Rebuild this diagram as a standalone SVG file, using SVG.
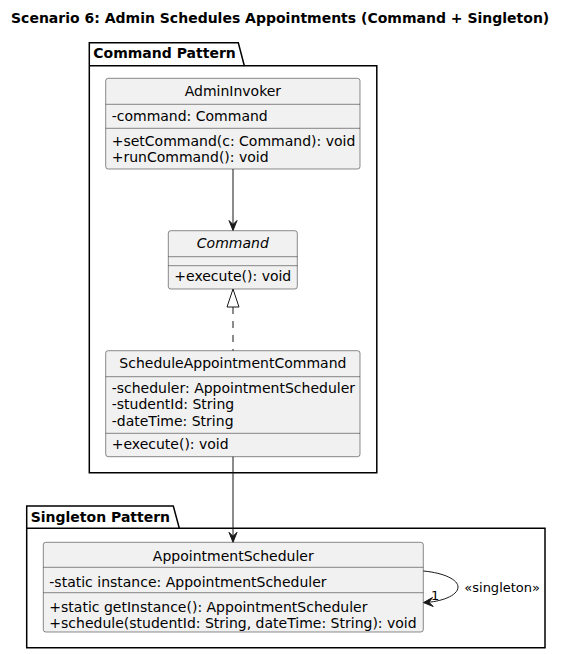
<svg xmlns="http://www.w3.org/2000/svg" width="565" height="654" viewBox="0 0 565 654">
<style>
text{font-family:"DejaVu Sans","Liberation Sans",sans-serif;font-size:14px;fill:#000}
.title{font-weight:bold}
.lbl{font-size:13px}
.pkg{fill:none;stroke:#000;stroke-width:1.5}
.cls{fill:#F1F1F1;stroke:#181818;stroke-width:0.5}
.sep{stroke:#181818;stroke-width:0.5}
.edge{fill:none;stroke:#181818;stroke-width:1}
.head{fill:#181818;stroke:#181818;stroke-width:1}
</style>
<rect width="565" height="654" fill="#fff"/>
<text class="title" x="11" y="22.7">Scenario 6: Admin Schedules Appointments (Command + Singleton)</text>

<g id="pkg-command">
<path class="pkg" d="M89.3,65.7 L89.3,42.7 L238.3,42.7 L244.3,65.7 L376.8,65.7 L376.8,472.7 L89.3,472.7 Z"/>
<line class="pkg" x1="89.3" y1="65.7" x2="244.3" y2="65.7"/>
<text class="title" x="93.3" y="58.3">Command Pattern</text>
</g>

<g id="pkg-singleton">
<path class="pkg" d="M26.7,528.3 L26.7,506 L173.3,506 L179.3,528.3 L545,528.3 L545,647.7 L26.7,647.7 Z"/>
<line class="pkg" x1="26.7" y1="528.3" x2="179.3" y2="528.3"/>
<text class="title" x="30.7" y="521.5">Singleton Pattern</text>
</g>

<g id="AdminInvoker">
<rect class="cls" x="105.7" y="78.3" width="254.3" height="90.7" rx="2.5"/>
<line class="sep" x1="105.7" y1="104.3" x2="360" y2="104.3"/>
<line class="sep" x1="105.7" y1="128.3" x2="360" y2="128.3"/>
<text x="232.9" y="96" text-anchor="middle">AdminInvoker</text>
<text x="111.7" y="121">-command: Command</text>
<text x="111.7" y="146">+setCommand(c: Command): void</text>
<text x="111.7" y="161.5">+runCommand(): void</text>
</g>

<g id="Command">
<rect class="cls" x="168.3" y="230.7" width="129" height="58.3" rx="2.5"/>
<line class="sep" x1="168.3" y1="256.7" x2="297.3" y2="256.7"/>
<line class="sep" x1="168.3" y1="265.7" x2="297.3" y2="265.7"/>
<text x="232.8" y="248" text-anchor="middle" font-style="italic">Command</text>
<text x="174.3" y="281">+execute(): void</text>
</g>

<g id="ScheduleAppointmentCommand">
<rect class="cls" x="105.7" y="350.7" width="254.3" height="106" rx="2.5"/>
<line class="sep" x1="105.7" y1="376.7" x2="360" y2="376.7"/>
<line class="sep" x1="105.7" y1="433.3" x2="360" y2="433.3"/>
<text x="232.9" y="368" text-anchor="middle">ScheduleAppointmentCommand</text>
<text x="111.7" y="393">-scheduler: AppointmentScheduler</text>
<text x="111.7" y="409.3">-studentId: String</text>
<text x="111.7" y="425.6">-dateTime: String</text>
<text x="111.7" y="449">+execute(): void</text>
</g>

<g id="AppointmentScheduler">
<rect class="cls" x="43.3" y="542.3" width="380" height="89.7" rx="2.5"/>
<line class="sep" x1="43.3" y1="567.3" x2="423.3" y2="567.3"/>
<line class="sep" x1="43.3" y1="592.7" x2="423.3" y2="592.7"/>
<text x="233.3" y="561" text-anchor="middle">AppointmentScheduler</text>
<text x="49.3" y="586.5">-static instance: AppointmentScheduler</text>
<text x="49.3" y="611.5">+static getInstance(): AppointmentScheduler</text>
<text x="49.3" y="627.8">+schedule(studentId: String, dateTime: String): void</text>
</g>

<g id="connectors">
<line class="edge" x1="233" y1="169" x2="233" y2="229"/>
<polygon class="head" points="233,230.5 229,220.5 233,224.5 237,220.5"/>
<line class="edge" x1="233" y1="307" x2="233" y2="350.7" stroke-dasharray="7,7"/>
<polygon points="233,289 227,307 239,307" fill="#fff" stroke="#181818" stroke-width="1"/>
<line class="edge" x1="233" y1="456.7" x2="233" y2="541"/>
<polygon class="head" points="233,542.3 229,532.3 233,536.3 237,532.3"/>
<path class="edge" d="M423.3,571 C445,573 458,580 458,587 C458,596 440,602 424.5,602.5"/>
<polygon class="head" points="423.5,602.6 432.5,597.5 429,602.3 433.2,606.5"/>
<text class="lbl" x="431" y="600">1</text>
<text class="lbl" x="464.3" y="592">«singleton»</text>
</g>
</svg>
